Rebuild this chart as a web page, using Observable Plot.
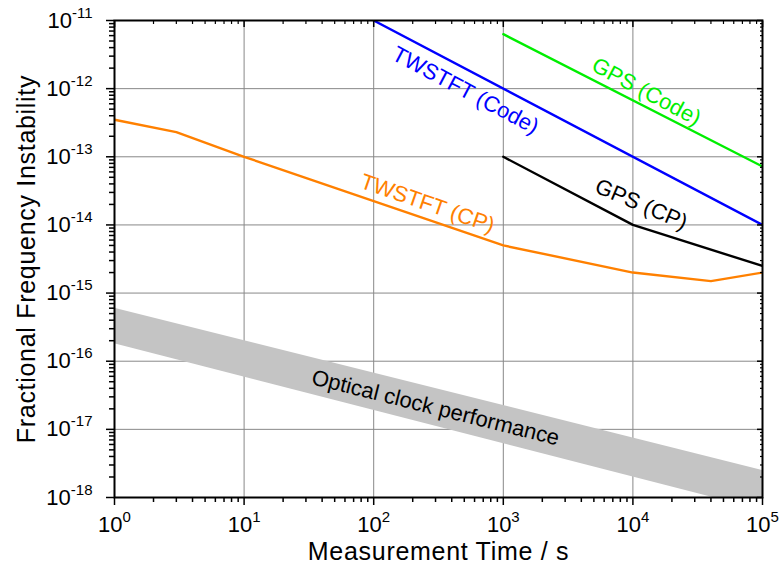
<!DOCTYPE html>
<html><head><meta charset="utf-8">
<script src="https://cdn.jsdelivr.net/npm/d3@7"></script>
<script src="https://cdn.jsdelivr.net/npm/@observablehq/plot@0.6"></script>
<style>body{margin:0;background:#fff;}</style>
</head><body><div id="chart"></div>
<script>
// ---- data ----
const xTicks = [1, 10, 100, 1000, 10000, 100000];
const xTickExp = ["0", "1", "2", "3", "4", "5"];
const yTicks = [1e-18, 1e-17, 1e-16, 1e-15, 1e-14, 1e-13, 1e-12, 1e-11];
const yTickExp = ["-18", "-17", "-16", "-15", "-14", "-13", "-12", "-11"];

const twstftCpTau = [1, 3, 10, 1000, 10000, 40000, 100000];
const twstftCpSigma = [3.5e-13, 2.3e-13, 1e-13, 5e-15, 2e-15, 1.5e-15, 2e-15];
const gpsCpTau = [1000, 10000, 100000];
const gpsCpSigma = [1e-13, 1e-14, 2.5e-15];
const twstftCodeTau = [100, 100000];
const twstftCodeSigma = [1e-11, 1e-14];
const gpsCodeTau = [1000, 100000];
const gpsCodeSigma = [6.3e-12, 7.2e-14];
const opticalTau = [1, 100000];
const opticalUpper = [6e-16, 2.5e-18];
const opticalLower = [1.8e-16, 6.5e-19];

const labelText = ["TWSTFT (Code)", "GPS (Code)", "GPS (CP)", "TWSTFT (CP)", "Optical clock performance"];
const labelTau = [511, 12700, 11600, 260, 300];
const labelSigma = [9.4e-13, 9.0e-13, 2.0e-14, 2.06e-14, 2.07e-17];
const labelAngle = [28, 28, 23, 19, 14];
const labelColor = ["#0000ff", "#00ee00", "#000000", "#ff8000", "#000000"];

// ---- build tables ----
const toRows = (t, s) => t.map((x, i) => ({x, y: s[i]}));
const series = [
  {rows: toRows(twstftCpTau, twstftCpSigma), color: "#ff8000"},
  {rows: toRows(gpsCpTau, gpsCpSigma), color: "#000000"},
  {rows: toRows(twstftCodeTau, twstftCodeSigma), color: "#0000ff"},
  {rows: toRows(gpsCodeTau, gpsCodeSigma), color: "#00ee00"}
];
const band = opticalTau.map((x, i) => ({x, y1: opticalLower[i], y2: opticalUpper[i]}));
const labels = labelText.map((t, i) => ({text: t, x: labelTau[i], y: labelSigma[i], angle: labelAngle[i], color: labelColor[i]}));

const minor = (lo, hi) => { const r = []; for (let k = lo; k < hi; k++) for (let m = 2; m <= 9; m++) r.push(m * Math.pow(10, k)); return r; };
const xMinor = minor(0, 5);
const yMinor = minor(-18, -11);
const expX = new Map(xTicks.map((v, i) => [v, xTickExp[i]]));
const expY = new Map(yTicks.map((v, i) => [v, yTickExp[i]]));

const font = "Liberation Sans, Arial, Helvetica, sans-serif";

const chart = Plot.plot({
  width: 780, height: 576,
  marginLeft: 114, marginRight: 18, marginTop: 20, marginBottom: 79,
  style: {fontFamily: font, background: "#fff"},
  x: {type: "log", domain: [1, 1e5]},
  y: {type: "log", domain: [1e-18, 1e-11]},
  marks: [
    Plot.gridX(xTicks, {stroke: "#888", strokeOpacity: 1, strokeWidth: 1}),
    Plot.gridY(yTicks, {stroke: "#888", strokeOpacity: 1, strokeWidth: 1}),
    Plot.areaY(band, {x: "x", y1: "y1", y2: "y2", fill: "#c4c4c4", clip: true}),
    ...series.map(s => Plot.line(s.rows, {x: "x", y: "y", stroke: s.color, strokeWidth: 2.4, clip: true})),
    ...labels.map(l => Plot.text([l], {x: "x", y: "y", text: "text", rotate: l.angle, fill: l.color, fontSize: 22})),
    // bottom axis
    Plot.axisX(xTicks, {anchor: "bottom", tickSize: 8, tickPadding: 11, strokeWidth: 1.5, tickFormat: d => expX.get(d), label: null}),
    Plot.axisX(xMinor, {anchor: "bottom", tickSize: 5, strokeWidth: 1.5, tickFormat: () => "", label: null}),
    Plot.axisX(xTicks, {anchor: "top", tickSize: -6, strokeWidth: 1.5, tickFormat: () => "", label: null}),
    Plot.axisX(xMinor, {anchor: "top", tickSize: -3, strokeWidth: 1.2, tickFormat: () => "", label: null}),
    // left axis
    Plot.axisY(yTicks, {anchor: "left", tickSize: 8, tickPadding: 14, strokeWidth: 1.5, tickFormat: d => expY.get(d), label: null}),
    Plot.axisY(yMinor, {anchor: "left", tickSize: 5, strokeWidth: 1.5, tickFormat: () => "", label: null}),
    Plot.axisY(yTicks, {anchor: "right", tickSize: -6, strokeWidth: 1.5, tickFormat: () => "", label: null}),
    Plot.axisY(yMinor, {anchor: "right", tickSize: -3, strokeWidth: 1.2, tickFormat: () => "", label: null}),
    Plot.frame({stroke: "#000", strokeWidth: 2}),
    Plot.text(["Measurement Time / s"], {frameAnchor: "bottom", dy: 54, lineAnchor: "middle", textAnchor: "middle", fontSize: 25, fill: "#000"}),
    Plot.text(["Fractional Frequency Instability"], {frameAnchor: "left", dx: -88, rotate: -90, lineAnchor: "middle", textAnchor: "middle", fontSize: 25, fill: "#000"})
  ]
});

// superscript exponents on tick labels
d3.select(chart).selectAll('g[aria-label="x-axis tick label"] text, g[aria-label="y-axis tick label"] text').each(function() {
  const e = this.textContent;
  if (!e) return;
  const t = d3.select(this);
  t.attr("font-size", 22).style("font-size", "22px");
  t.text("10");
  t.append("tspan").attr("dy", "-10").style("font-size", "15px").text(e);
});
// slightly wider lettering for the axis titles
d3.select(chart).selectAll('g[aria-label="text"] text').each(function() {
  const s = this.textContent;
  if (s === "Measurement Time / s" || s === "Fractional Frequency Instability") d3.select(this).style("letter-spacing", "0.7px");
});
document.getElementById("chart").appendChild(chart);
</script>
</body></html>
